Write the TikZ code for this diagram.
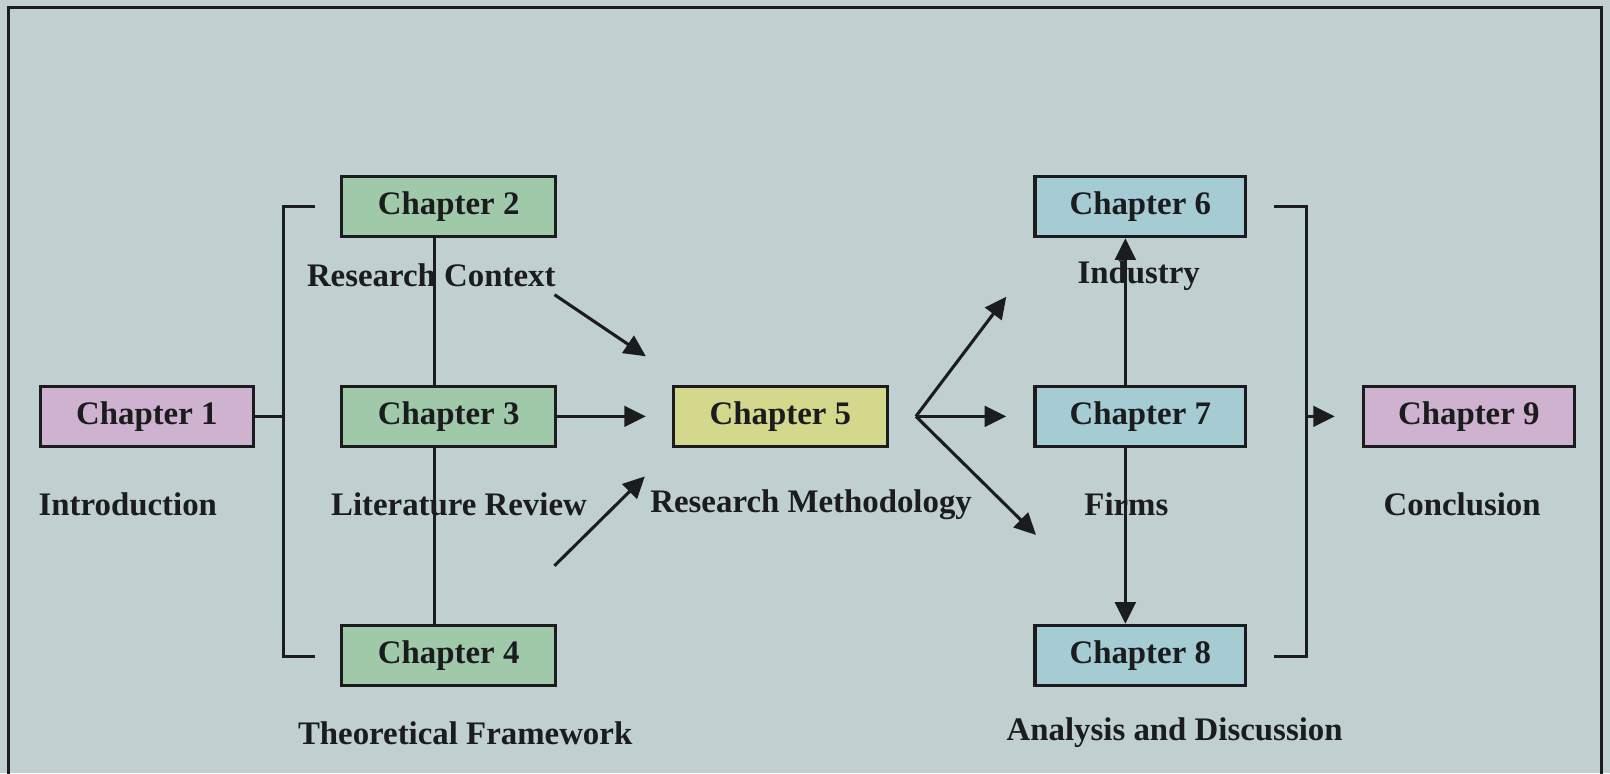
\documentclass[tikz,border=0pt]{standalone}
\usepackage{fontspec}
\setmainfont{Liberation Serif}
\usetikzlibrary{arrows.meta}
\definecolor{paper}{RGB}{192,207,207}
\definecolor{plum}{RGB}{207,178,207}
\definecolor{sage}{RGB}{160,201,170}
\definecolor{lime}{RGB}{212,216,140}
\definecolor{sky}{RGB}{165,203,211}
\definecolor{ink}{RGB}{26,28,30}
\begin{document}
\begin{tikzpicture}[x=0.5pt, y=-0.5pt, ink, line width=1.5pt,
    chap/.style={draw=ink, minimum width=104pt, minimum height=29.5pt, inner sep=0pt,
                 font=\fontsize{16}{19}\selectfont\bfseries},
    lbl/.style={font=\fontsize{16}{19}\selectfont\bfseries, inner sep=0pt},
    >={Triangle[length=10.5pt,width=10pt]}]
    \fill[paper] (0,0) rectangle (1568,753);
    \useasboundingbox (0,0) rectangle (1568,753);
    \draw (8,770) |- (1560,7) -- (1560,770);
    % boxes
    \node[chap, fill=plum] (ch1) at (143,405.5) {Chapter 1};
    \foreach \n/\y in {2/201,3/405.5,4/638.5} \node[chap, fill=sage] (ch\n) at (437,\y) {Chapter \n};
    \node[chap, fill=lime] (ch5) at (760,405.5) {Chapter 5};
    \foreach \n/\y in {6/201,7/405.5,8/638.5} \node[chap, fill=sky, minimum width=102.5pt] (ch\n) at (1110.5,\y) {Chapter \n};
    \node[chap, fill=plum, minimum width=102.5pt] (ch9) at (1430.5,405.5) {Chapter 9};
    % labels
    \node[lbl] (intro) at (124.5,491) {Introduction};
    \node[lbl] (context) at (420,268) {Research Context};
    \node[lbl] (review) at (447,491) {Literature Review};
    \node[lbl] (theory) at (453,714) {Theoretical Framework};
    \node[lbl] (method) at (790,492) {Research Methodology};
    \node[lbl] (industry) at (1109,268) {Industry};
    \node[lbl] (firms) at (1097,491) {Firms};
    \node[lbl] (analysis) at (1144,714) {Analysis and Discussion};
    \node[lbl] (concl) at (1424,491) {Conclusion};
    % left bracket and spine
    \coordinate (lbrk) at (276,405.5);
    \coordinate (ltop) at (307,201);
    \coordinate (lbot) at (307,639);
    \coordinate (spineL) at (423,0);
    \draw (ch1.east) -- (lbrk);
    \draw (ltop) -| (lbrk) |- (lbot);
    \draw (ch2.south -| spineL) -- (ch3.north -| spineL);
    \draw (ch3.south -| spineL) -- (ch4.north -| spineL);
    % into chapter 5
    \coordinate (out1) at (540,287);
    \coordinate (in1) at (629,347);
    \coordinate (in2) at (629,405.5);
    \coordinate (out3) at (540,551);
    \coordinate (in3) at (628,464);
    \draw[->] (out1) -- (in1);
    \draw[->] (ch3.east) -- (in2);
    \draw[->] (out3) -- (in3);
    % out of chapter 5
    \coordinate (fork) at (892,405.5);
    \foreach \t in {(980,289),(980,405.5),(1009,521)} \draw[->] (fork) -- \t;
    \coordinate (spineR) at (1096,0);
    \draw[->] (ch7.north -| spineR) -- (ch6.south -| spineR);
    \draw[->] (ch7.south -| spineR) -- (ch8.north -| spineR);
    % right bracket
    \coordinate (rbrk) at (1272,405.5);
    \coordinate (rtop) at (1241,201);
    \coordinate (rbot) at (1241,639);
    \coordinate (rtip) at (1300,405.5);
    \draw (rtop) -| (rbrk) |- (rbot);
    \draw[->] (rbrk) -- (rtip);
\end{tikzpicture}
\end{document}
